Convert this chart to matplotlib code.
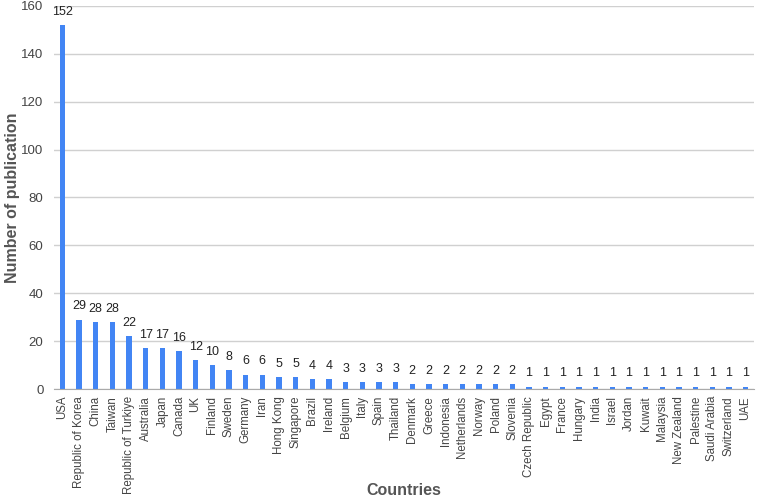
import matplotlib
matplotlib.use("Agg")
import matplotlib.pyplot as plt

countries = ["USA", "Republic of Korea", "China", "Taiwan", "Republic of Turkiye",
             "Australia", "Japan", "Canada", "UK", "Finland", "Sweden", "Germany",
             "Iran", "Hong Kong", "Singapore", "Brazil", "Ireland", "Belgium", "Italy",
             "Spain", "Thailand", "Denmark", "Greece", "Indonesia", "Netherlands",
             "Norway", "Poland", "Slovenia", "Czech Republic", "Egypt", "France",
             "Hungary", "India", "Israel", "Jordan", "Kuwait", "Malaysia",
             "New Zealand", "Palestine", "Saudi Arabia", "Switzerland", "UAE"]
counts = [152, 29, 28, 28, 22, 17, 17, 16, 12, 10, 8, 6, 6, 5, 5, 4, 4, 3, 3,
          3, 3, 2, 2, 2, 2, 2, 2, 2, 1, 1, 1, 1, 1, 1, 1, 1, 1, 1, 1, 1, 1, 1]
yticks = [0, 20, 40, 60, 80, 100, 120, 140, 160]

plt.rcParams['font.family'] = ['Liberation Sans', 'DejaVu Sans']

fig = plt.figure(figsize=(7.6, 5.0), dpi=100)
ax = fig.add_axes([0.071, 0.222, 0.921, 0.766])

x = list(range(len(countries)))
ax.bar(x, counts, width=0.32, color="#4285F4", zorder=3)
for xi, v in zip(x, counts):
    ax.text(xi, v + 3.0, str(v), ha="center", va="bottom", fontsize=9, color="#222222")

ax.set_xlim(-0.5, len(countries) - 0.5)
ax.set_ylim(0, 160)
ax.set_yticks(yticks)
ax.set_yticklabels([str(t) for t in yticks], fontsize=9.5, color="#444444")
ax.set_xticks(x)
ax.set_xticklabels(countries, rotation=90, fontsize=8.3, color="#444444")
ax.tick_params(axis="y", length=0, pad=7.5)
ax.tick_params(axis="x", length=0, pad=5)
ax.grid(axis="y", color="#d0d0d0", linewidth=1, zorder=0)
for s in ["top", "right", "left"]:
    ax.spines[s].set_visible(False)
ax.spines["bottom"].set_color("#aaaaaa")
ax.spines["bottom"].set_zorder(4)

ax.set_ylabel("Number of publication", fontsize=11.5, fontweight="bold", color="#555555")
ax.yaxis.set_label_coords(-0.048, 0.5)
ax.set_xlabel("Countries", fontsize=11.5, fontweight="bold", color="#555555", va="center")
ax.xaxis.set_label_coords(0.5, -0.264)

fig.savefig("out.png", dpi=100)
